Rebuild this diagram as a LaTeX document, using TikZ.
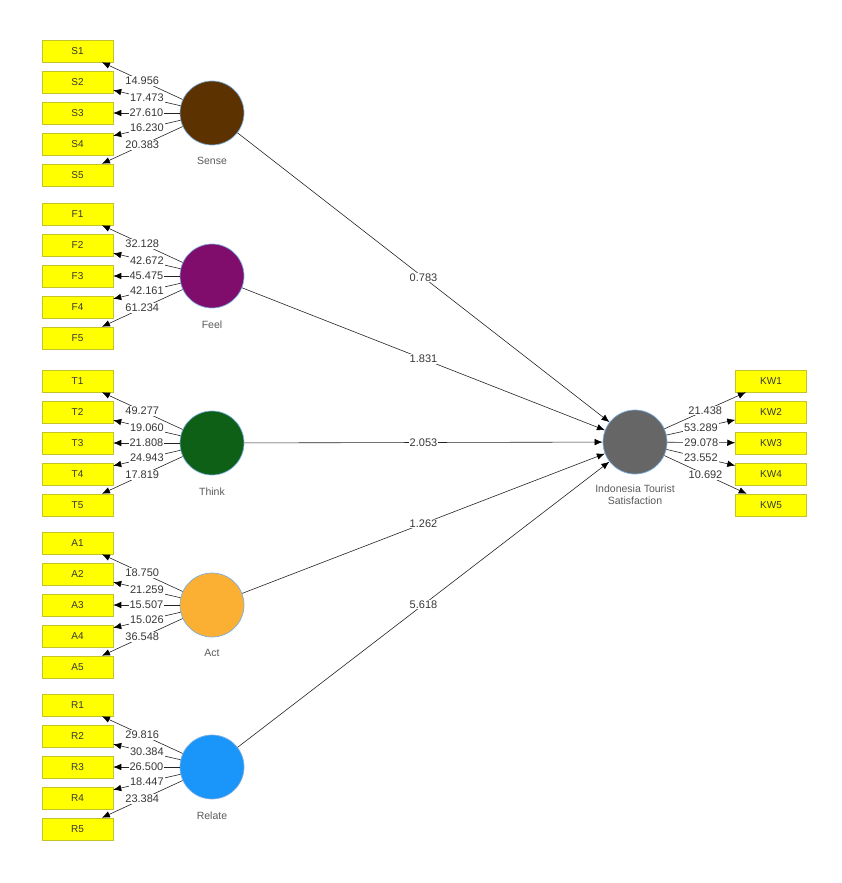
\documentclass[tikz,border=0pt]{standalone}
\usepackage{fontspec}
\setmainfont{Liberation Sans}
\usepackage{tikz}
\usetikzlibrary{arrows.meta,positioning}
\definecolor{indicatorfill}{RGB}{255,255,0}
\definecolor{indicatorline}{RGB}{196,196,40}
\definecolor{pathline}{RGB}{35,35,35}
\definecolor{valuetext}{RGB}{55,55,55}
\definecolor{nametext}{RGB}{90,90,90}
\definecolor{circleline}{RGB}{125,175,225}
\definecolor{sensefill}{RGB}{92,51,0}
\definecolor{feelfill}{RGB}{128,12,108}
\definecolor{thinkfill}{RGB}{14,96,22}
\definecolor{actfill}{RGB}{251,176,52}
\definecolor{relatefill}{RGB}{26,150,250}
\definecolor{itsfill}{RGB}{102,102,102}

\begin{document}
\begin{tikzpicture}[x=1pt, y=-1pt,
    indicator/.style={draw=indicatorline, fill=indicatorfill, line width=0.5pt,
      minimum width=71pt, minimum height=22pt, inner sep=0pt,
      font=\fontsize{10}{12}\selectfont, text=valuetext},
    construct/.style={circle, draw=circleline, line width=0.7pt,
      minimum size=64pt, inner sep=0pt},
    conname/.style={inner sep=0pt, align=center,
      font=\fontsize{10.5}{12}\selectfont, text=nametext},
    loading/.style={draw=pathline, line width=0.6pt,
      -{Latex[length=8pt,width=6.5pt,black]}},
    value/.style={midway, fill=white, inner sep=1pt,
      font=\fontsize{11}{12}\selectfont, text=valuetext}]
    \useasboundingbox (0,0) rectangle (842,883);
    % latent variables
    \node[construct, fill=sensefill] (sense) at (212,113) {};
    \node[conname, below=12pt of sense] (sensename) {Sense};
    \node[construct, fill=feelfill] (feel) at (212,276) {};
    \node[conname, below=12pt of feel] (feelname) {Feel};
    \node[construct, fill=thinkfill] (think) at (212,443) {};
    \node[conname, below=12pt of think] (thinkname) {Think};
    \node[construct, fill=actfill] (act) at (212,605) {};
    \node[conname, below=12pt of act] (actname) {Act};
    \node[construct, fill=relatefill] (relate) at (212,767) {};
    \node[conname, below=12pt of relate] (relatename) {Relate};
    \node[construct, fill=itsfill] (its) at (635,442) {};
    \node[conname, below=10pt of its] (itsname) {Indonesia Tourist\\Satisfaction};
    % indicators
    \foreach \i/\v [evaluate=\i as \yy using {113+31*(\i-3)}] in
        {1/14.956,2/17.473,3/27.610,4/16.230,5/20.383} {
      \node[indicator] (s\i) at (77.5,\yy) {S\i};
      \draw[loading] (sense) -- (s\i) node[value] {\v};
    }
    \foreach \i/\v [evaluate=\i as \yy using {276+31*(\i-3)}] in
        {1/32.128,2/42.672,3/45.475,4/42.161,5/61.234} {
      \node[indicator] (f\i) at (77.5,\yy) {F\i};
      \draw[loading] (feel) -- (f\i) node[value] {\v};
    }
    \foreach \i/\v [evaluate=\i as \yy using {443+31*(\i-3)}] in
        {1/49.277,2/19.060,3/21.808,4/24.943,5/17.819} {
      \node[indicator] (t\i) at (77.5,\yy) {T\i};
      \draw[loading] (think) -- (t\i) node[value] {\v};
    }
    \foreach \i/\v [evaluate=\i as \yy using {605+31*(\i-3)}] in
        {1/18.750,2/21.259,3/15.507,4/15.026,5/36.548} {
      \node[indicator] (a\i) at (77.5,\yy) {A\i};
      \draw[loading] (act) -- (a\i) node[value] {\v};
    }
    \foreach \i/\v [evaluate=\i as \yy using {767+31*(\i-3)}] in
        {1/29.816,2/30.384,3/26.500,4/18.447,5/23.384} {
      \node[indicator] (r\i) at (77.5,\yy) {R\i};
      \draw[loading] (relate) -- (r\i) node[value] {\v};
    }
    \foreach \i/\v [evaluate=\i as \yy using {443+31*(\i-3)}] in
        {1/21.438,2/53.289,3/29.078,4/23.552,5/10.692} {
      \node[indicator] (kw\i) at (771,\yy) {KW\i};
      \draw[loading] (its) -- (kw\i) node[value] {\v};
    }
    % structural paths
    \draw[loading] (sense) -- (its) node[value] {0.783};
    \draw[loading] (feel) -- (its) node[value] {1.831};
    \draw[loading] (think) -- (its) node[value] {2.053};
    \draw[loading] (act) -- (its) node[value] {1.262};
    \draw[loading] (relate) -- (its) node[value] {5.618};
  \end{tikzpicture}
\end{document}
